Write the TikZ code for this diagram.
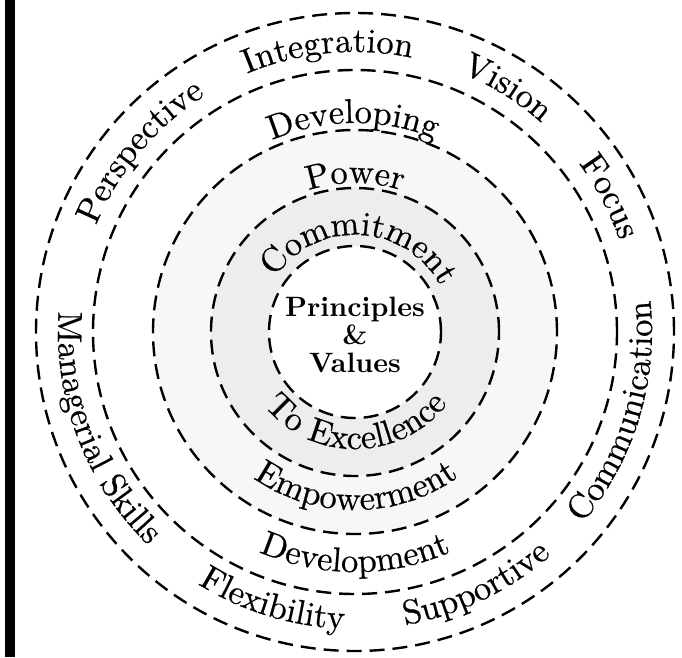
\documentclass[tikz,border=0pt]{standalone}
\usepackage{fontspec}
\setmainfont{lmroman10-regular.otf}[BoldFont=lmroman10-bold.otf]
\newfontfamily\ringface{lmroman10-regular.otf}[FakeBold=0.5]
\usetikzlibrary{decorations.text}

\newcommand{\ringfont}{\ringface\fontsize{34.5}{37}\selectfont}

\begin{document}
\begin{tikzpicture}[x=1pt,y=1pt]
    \useasboundingbox (-355,-325) rectangle (327,332);

    %Binding strip
    \fill (-350,-325) rectangle (-340,332);

    %Shaded bands
    \fill[black!7, even odd rule] (0,0) circle[radius=144] (0,0) circle[radius=86];
    \fill[black!3, even odd rule] (0,0) circle[radius=202] (0,0) circle[radius=144];

    %Rings
    \begin{scope}[ring/.style={draw, line width=2.4pt, dash pattern=on 15pt off 8pt}]
      \foreach \r in {86,144,202,262,319}
        \draw[ring] (0,0) circle[radius=\r];
    \end{scope}

    %Core
    \node[font=\bfseries\fontsize{28}{28}\selectfont, align=center, inner sep=0pt] (core) at (0,-3) {Principles\\\&\\Values};

    %Words round the rings
    \begin{scope}[word/.style={decorate, decoration={text along path, text align=center, text={|\ringfont\bfseries|#1}}}]
      % outer band, upper half
      \path[word=Perspective] (210:280) arc[start angle=210, end angle=70, radius=280];
      \path[word=Integration] (165.5:280) arc[start angle=165.5, end angle=25.5, radius=280];
      \path[word=Vision] (128:280) arc[start angle=128, end angle=-12, radius=280];
      \path[word=Focus] (98:280) arc[start angle=98, end angle=-42, radius=280];
      % outer band, lower half
      \path[word={Managerial Skills}] (131:297) arc[start angle=131, end angle=271, radius=297];
      \path[word=Flexibility] (183:297) arc[start angle=183, end angle=323, radius=297];
      \path[word=Supportive] (-134.5:297) arc[start angle=-134.5, end angle=5.5, radius=297];
      \path[word=Communication] (-87:297) arc[start angle=-87, end angle=53, radius=297];
      % third band
      \path[word=Developing] (160.5:209) arc[start angle=160.5, end angle=20.5, radius=209];
      \path[word=Development] (200:240) arc[start angle=200, end angle=340, radius=240];
      % second band
      \path[word=Power] (160:149) arc[start angle=160, end angle=20, radius=149];
      \path[word=Empowerment] (200.4:178) arc[start angle=200.4, end angle=340.4, radius=178];
      % first band
      \path[word=Commitment] (162:97) arc[start angle=162, end angle=12, radius=97];
      \path[word={To Excellence}] (195.7:117) arc[start angle=195.7, end angle=345.7, radius=117];
    \end{scope}
\end{tikzpicture}
\end{document}
